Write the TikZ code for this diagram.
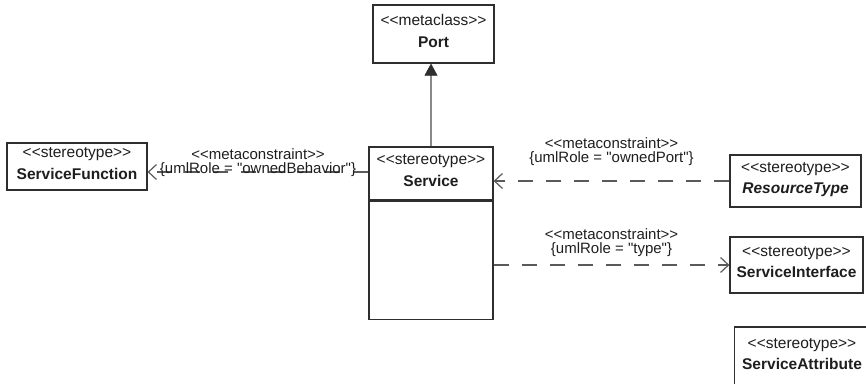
\documentclass[tikz,border=0pt]{standalone}
\usepackage{fontspec}
\setmainfont{Liberation Sans}[Ligatures=TeXOff]
\usepackage{xcolor}
\usetikzlibrary{arrows.meta,positioning}
\definecolor{umlline}{HTML}{2E2E2E}
\definecolor{umltext}{HTML}{1E1E1E}
\definecolor{deplink}{HTML}{5A5A5A}
\definecolor{genlink}{HTML}{8A8A8A}

\begin{document}
\begin{tikzpicture}[x=1pt,y=-1pt,
box/.style={draw=umlline,line width=1.2pt,fill=white,align=center,inner sep=0pt,text=umltext,
 font=\fontsize{15.5}{21.5}\selectfont,execute at end node={\rule[-6pt]{0pt}{6pt}}},
lbl/.style={align=center,inner sep=0pt,text=umltext,font=\fontsize{15}{13.5}\selectfont},
dep/.style={draw=deplink,line width=1.2pt,dash pattern=on 15pt off 13pt,
 -{Straight Barb[length=8pt,width=15pt,line width=1.2pt]}},
gen/.style={draw=genlink,line width=2pt,-{Triangle[length=12pt,width=13pt,color=umlline,fill=umlline,line width=0.5pt]}}]
\useasboundingbox (0,0) rectangle (866,383);
\clip (0,0) rectangle (866,383);
\node[box,minimum width=121,minimum height=58] (port) at (433.5,34) {<<metaclass>>\\ \textbf{Port}};
\node[box,minimum width=124,minimum height=53] (svc) at (431,173.5) {<<stereotype>>\\ \textbf{Service}};
\node[box,minimum width=124,minimum height=118,below=0pt of svc] (svcbody) {};
\node[box,minimum width=140,minimum height=47] (svcfn) at (77,166.5) {<<stereotype>>\\ \textbf{ServiceFunction}};
\node[box,minimum width=131,minimum height=52] (restype) at (795.5,181) {<<stereotype>>\\ \textbf{\itshape ResourceType}};
\node[box,minimum width=133,minimum height=56] (svcif) at (796.5,265) {<<stereotype>>\\ \textbf{ServiceInterface}};
\node[box,minimum width=135,minimum height=60] (svcattr) at (802,357) {<<stereotype>>\\ \textbf{ServiceAttribute}};

\draw[gen](svc.north)--(svc.north |- port.south);
\draw[dep](svc.west |- 0,172)--(svcfn.east |- 0,172)
 node[lbl,midway,yshift=9.5pt]{<<metaconstraint>>\\ \{umlRole = "ownedBehavior"\}};
\draw[dep](restype.west)--(restype.west -| svc.east)
 node[lbl,midway,yshift=29.5pt]{<<metaconstraint>>\\ \{umlRole = "ownedPort"\}};
\draw[dep](svcif.west -| svcbody.east)--(svcif.west)
 node[lbl,midway,yshift=22.5pt]{<<metaconstraint>>\\ \{umlRole = "type"\}};
\end{tikzpicture}
\end{document}
